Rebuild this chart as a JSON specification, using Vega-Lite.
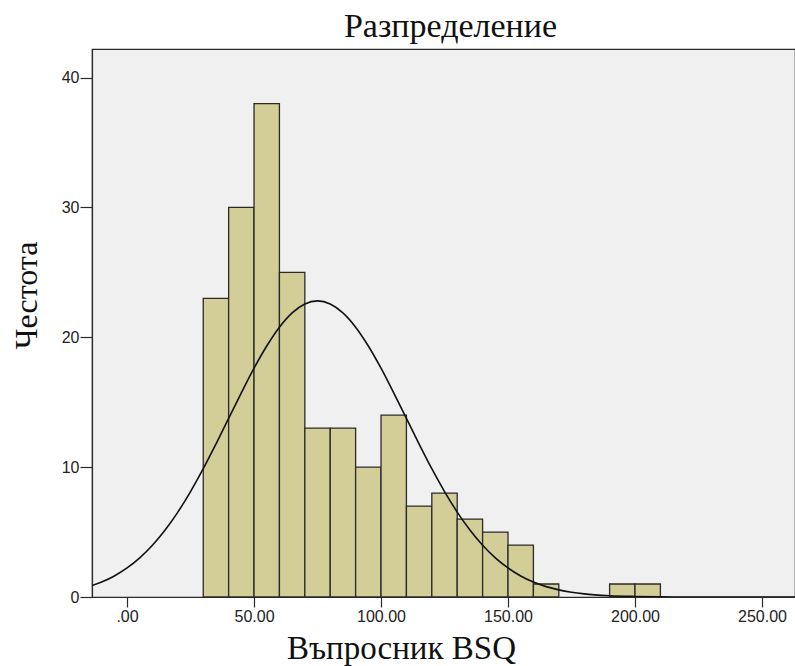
{
  "$schema": "https://vega.github.io/schema/vega-lite/v6.json",
  "autosize": "none",
  "width": 703,
  "height": 548,
  "padding": {"left": 92, "top": 49, "right": 0, "bottom": 69},
  "background": "white",
  "view": {"fill": "#f0f0f0", "stroke": "#2a2a2a", "strokeWidth": 1.2},
  "title": {"text": "Разпределение", "font": "Liberation Serif", "fontSize": 34, "fontWeight": "normal", "color": "#111", "offset": 5, "dx": 7},
  "datasets": {
    "bins": [
      {"start": 30, "end": 40, "count": 23},
      {"start": 40, "end": 50, "count": 30},
      {"start": 50, "end": 60, "count": 38},
      {"start": 60, "end": 70, "count": 25},
      {"start": 70, "end": 80, "count": 13},
      {"start": 80, "end": 90, "count": 13},
      {"start": 90, "end": 100, "count": 10},
      {"start": 100, "end": 110, "count": 14},
      {"start": 110, "end": 120, "count": 7},
      {"start": 120, "end": 130, "count": 8},
      {"start": 130, "end": 140, "count": 6},
      {"start": 140, "end": 150, "count": 5},
      {"start": 150, "end": 160, "count": 4},
      {"start": 160, "end": 170, "count": 1},
      {"start": 190, "end": 200, "count": 1},
      {"start": 200, "end": 210, "count": 1}
    ],
    "curve": [
      {"x": -13.8, "y": 0.88}, {"x": -10, "y": 1.15}, {"x": -5, "y": 1.62}, {"x": 0, "y": 2.24},
      {"x": 5, "y": 3.02}, {"x": 10, "y": 3.99}, {"x": 15, "y": 5.16}, {"x": 20, "y": 6.54},
      {"x": 25, "y": 8.12}, {"x": 30, "y": 9.88}, {"x": 35, "y": 11.78}, {"x": 40, "y": 13.75},
      {"x": 45, "y": 15.72}, {"x": 50, "y": 17.62}, {"x": 55, "y": 19.33}, {"x": 60, "y": 20.78},
      {"x": 65, "y": 21.88}, {"x": 70, "y": 22.57}, {"x": 75, "y": 22.8}, {"x": 80, "y": 22.57},
      {"x": 85, "y": 21.88}, {"x": 90, "y": 20.78}, {"x": 95, "y": 19.33}, {"x": 100, "y": 17.62},
      {"x": 105, "y": 15.72}, {"x": 110, "y": 13.75}, {"x": 115, "y": 11.78}, {"x": 120, "y": 9.88},
      {"x": 125, "y": 8.12}, {"x": 130, "y": 6.54}, {"x": 135, "y": 5.16}, {"x": 140, "y": 3.99},
      {"x": 145, "y": 3.02}, {"x": 150, "y": 2.24}, {"x": 155, "y": 1.62}, {"x": 160, "y": 1.15},
      {"x": 165, "y": 0.8}, {"x": 170, "y": 0.55}, {"x": 175, "y": 0.37}, {"x": 180, "y": 0.24},
      {"x": 190, "y": 0.1}, {"x": 200, "y": 0.04}, {"x": 210, "y": 0.012}, {"x": 220, "y": 0.003},
      {"x": 240, "y": 0}, {"x": 263, "y": 0}
    ]
  },
  "layer": [
    {
      "data": {"name": "bins"},
      "mark": {"type": "rect", "fill": "#d3ce97", "stroke": "#2a2a2a", "strokeWidth": 1.3},
      "encoding": {
        "x": {
          "field": "start", "type": "quantitative",
          "scale": {"domain": [-13.8, 263], "nice": false, "zero": false},
          "axis": {
            "title": "Въпросник BSQ", "titleFont": "Liberation Serif", "titleFontSize": 33, "titleFontWeight": "normal", "titleColor": "#111",
            "titleBaseline": "alphabetic", "titleAlign": "center", "titleX": 309, "titleY": 61,
            "values": [0, 50, 100, 150, 200, 250],
            "labelExpr": "datum.value == 0 ? '.00' : format(datum.value, '.2f')",
            "labelFont": "Liberation Sans", "labelFontSize": 16, "labelColor": "#222", "labelPadding": 1,
            "tickSize": 10, "tickColor": "#2a2a2a", "tickWidth": 1.2, "domainColor": "#2a2a2a", "domainWidth": 1.2,
            "grid": false
          }
        },
        "x2": {"field": "end"},
        "y": {
          "field": "count", "type": "quantitative",
          "scale": {"domain": [0, 42.2], "nice": false},
          "axis": {
            "title": "Честота", "titleFont": "Liberation Serif", "titleFontSize": 32, "titleFontWeight": "normal", "titleColor": "#111",
            "titleAngle": -90, "titleBaseline": "alphabetic", "titleAlign": "center", "titleX": -56, "titleY": 246,
            "values": [0, 10, 20, 30, 40],
            "labelFont": "Liberation Sans", "labelFontSize": 16, "labelColor": "#222", "labelPadding": 1,
            "tickSize": 12, "tickColor": "#2a2a2a", "tickWidth": 1.2, "domainColor": "#2a2a2a", "domainWidth": 1.2,
            "grid": false
          }
        },
        "y2": {"datum": 0}
      }
    },
    {
      "data": {"name": "curve"},
      "mark": {"type": "line", "color": "#111", "strokeWidth": 1.6, "interpolate": "monotone", "clip": true},
      "encoding": {
        "x": {"field": "x", "type": "quantitative"},
        "y": {"field": "y", "type": "quantitative"}
      }
    }
  ]
}
